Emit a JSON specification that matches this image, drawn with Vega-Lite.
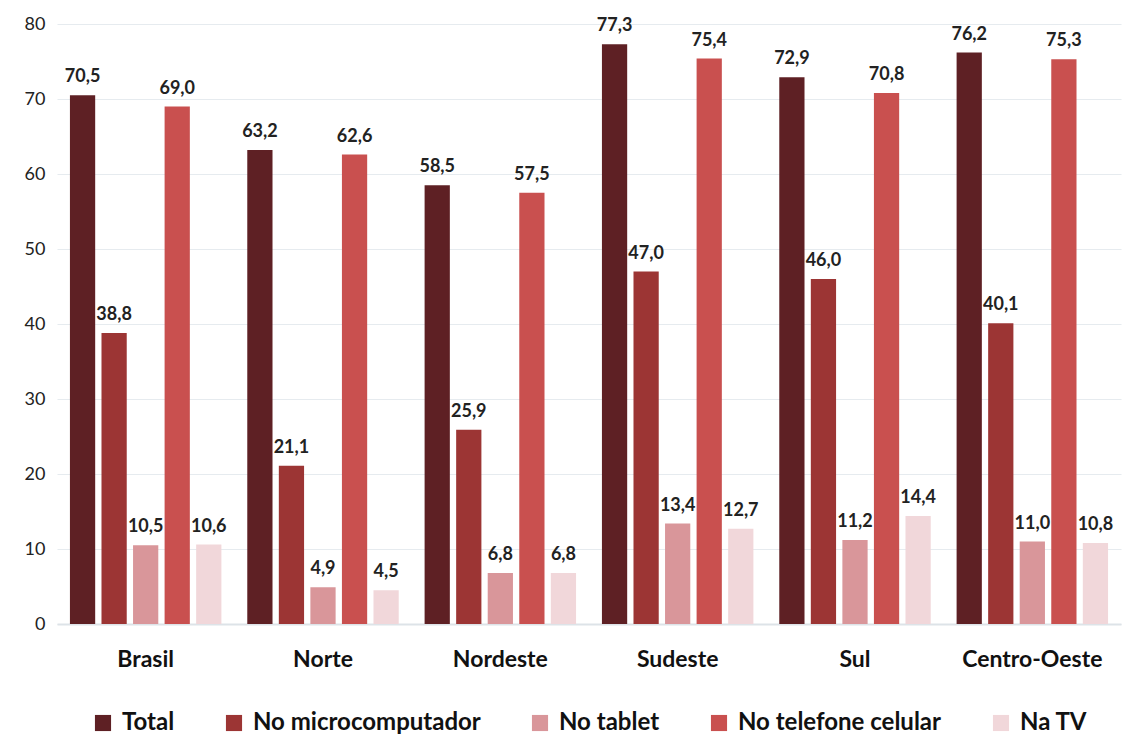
{
  "$schema": "https://vega.github.io/schema/vega-lite/v6.json",
  "width": 1131,
  "height": 746,
  "autosize": {"type": "fit", "contains": "padding"},
  "padding": {"left": 24, "top": 15, "right": 10, "bottom": 11},
  "background": "white",
  "config": {
    "view": {"stroke": null},
    "font": "Lato",
    "legend": {"layout": {"bottom": {"anchor": "middle"}}}
  },
  "data": {
    "values": [
      {"regiao": "Brasil", "serie": "Total", "valor": 70.5, "rotulo": "70,5"},
      {"regiao": "Brasil", "serie": "No microcomputador", "valor": 38.8, "rotulo": "38,8"},
      {"regiao": "Brasil", "serie": "No tablet", "valor": 10.5, "rotulo": "10,5"},
      {"regiao": "Brasil", "serie": "No telefone celular", "valor": 69.0, "rotulo": "69,0"},
      {"regiao": "Brasil", "serie": "Na TV", "valor": 10.6, "rotulo": "10,6"},
      {"regiao": "Norte", "serie": "Total", "valor": 63.2, "rotulo": "63,2"},
      {"regiao": "Norte", "serie": "No microcomputador", "valor": 21.1, "rotulo": "21,1"},
      {"regiao": "Norte", "serie": "No tablet", "valor": 4.9, "rotulo": "4,9"},
      {"regiao": "Norte", "serie": "No telefone celular", "valor": 62.6, "rotulo": "62,6"},
      {"regiao": "Norte", "serie": "Na TV", "valor": 4.5, "rotulo": "4,5"},
      {"regiao": "Nordeste", "serie": "Total", "valor": 58.5, "rotulo": "58,5"},
      {"regiao": "Nordeste", "serie": "No microcomputador", "valor": 25.9, "rotulo": "25,9"},
      {"regiao": "Nordeste", "serie": "No tablet", "valor": 6.8, "rotulo": "6,8"},
      {"regiao": "Nordeste", "serie": "No telefone celular", "valor": 57.5, "rotulo": "57,5"},
      {"regiao": "Nordeste", "serie": "Na TV", "valor": 6.8, "rotulo": "6,8"},
      {"regiao": "Sudeste", "serie": "Total", "valor": 77.3, "rotulo": "77,3"},
      {"regiao": "Sudeste", "serie": "No microcomputador", "valor": 47.0, "rotulo": "47,0"},
      {"regiao": "Sudeste", "serie": "No tablet", "valor": 13.4, "rotulo": "13,4"},
      {"regiao": "Sudeste", "serie": "No telefone celular", "valor": 75.4, "rotulo": "75,4"},
      {"regiao": "Sudeste", "serie": "Na TV", "valor": 12.7, "rotulo": "12,7"},
      {"regiao": "Sul", "serie": "Total", "valor": 72.9, "rotulo": "72,9"},
      {"regiao": "Sul", "serie": "No microcomputador", "valor": 46.0, "rotulo": "46,0"},
      {"regiao": "Sul", "serie": "No tablet", "valor": 11.2, "rotulo": "11,2"},
      {"regiao": "Sul", "serie": "No telefone celular", "valor": 70.8, "rotulo": "70,8"},
      {"regiao": "Sul", "serie": "Na TV", "valor": 14.4, "rotulo": "14,4"},
      {"regiao": "Centro-Oeste", "serie": "Total", "valor": 76.2, "rotulo": "76,2"},
      {"regiao": "Centro-Oeste", "serie": "No microcomputador", "valor": 40.1, "rotulo": "40,1"},
      {"regiao": "Centro-Oeste", "serie": "No tablet", "valor": 11.0, "rotulo": "11,0"},
      {"regiao": "Centro-Oeste", "serie": "No telefone celular", "valor": 75.3, "rotulo": "75,3"},
      {"regiao": "Centro-Oeste", "serie": "Na TV", "valor": 10.8, "rotulo": "10,8"}
    ]
  },
  "encoding": {
    "x": {
      "field": "regiao",
      "type": "nominal",
      "sort": ["Brasil", "Norte", "Nordeste", "Sudeste", "Sul", "Centro-Oeste"],
      "scale": {"paddingInner": 0, "paddingOuter": 0},
      "axis": {
        "title": null,
        "labelAngle": 0,
        "labelFontSize": 23,
        "labelFontWeight": "bold",
        "labelColor": "#111111",
        "labelPadding": 24,
        "ticks": false,
        "domain": true,
        "domainColor": "#dde3e8",
        "domainWidth": 2
      }
    },
    "xOffset": {
      "field": "serie",
      "type": "nominal",
      "sort": ["Total", "No microcomputador", "No tablet", "No telefone celular", "Na TV"],
      "scale": {"paddingInner": 0.2, "paddingOuter": 0.41}
    },
    "y": {
      "field": "valor",
      "type": "quantitative",
      "scale": {"domain": [0, 80], "nice": false},
      "axis": {
        "title": null,
        "values": [0, 10, 20, 30, 40, 50, 60, 70, 80],
        "labelFontSize": 18,
        "labelColor": "#222222",
        "labelPadding": 12,
        "ticks": false,
        "domain": false,
        "gridColor": "#e6ebef",
        "gridWidth": 1.2
      }
    }
  },
  "layer": [
    {
      "mark": {"type": "bar"},
      "encoding": {
        "color": {
          "field": "serie",
          "type": "nominal",
          "sort": ["Total", "No microcomputador", "No tablet", "No telefone celular", "Na TV"],
          "scale": {
            "domain": ["Total", "No microcomputador", "No tablet", "No telefone celular", "Na TV"],
            "range": ["#5e2024", "#9c3534", "#d9969a", "#c9504f", "#f1d7da"]
          },
          "legend": {
            "title": null,
            "orient": "bottom",
            "direction": "horizontal",
            "symbolType": "square",
            "symbolSize": 260,
            "labelFontSize": 24,
            "labelFontWeight": "bold",
            "labelColor": "#111111",
            "labelLimit": 400,
            "columnPadding": 47,
            "offset": 40,
            "labelOffset": 7
          }
        }
      }
    },
    {
      "mark": {"type": "text", "dy": -18, "fontSize": 18, "fontWeight": "bold", "color": "#222222"},
      "encoding": {
        "text": {"field": "rotulo"}
      }
    }
  ]
}
